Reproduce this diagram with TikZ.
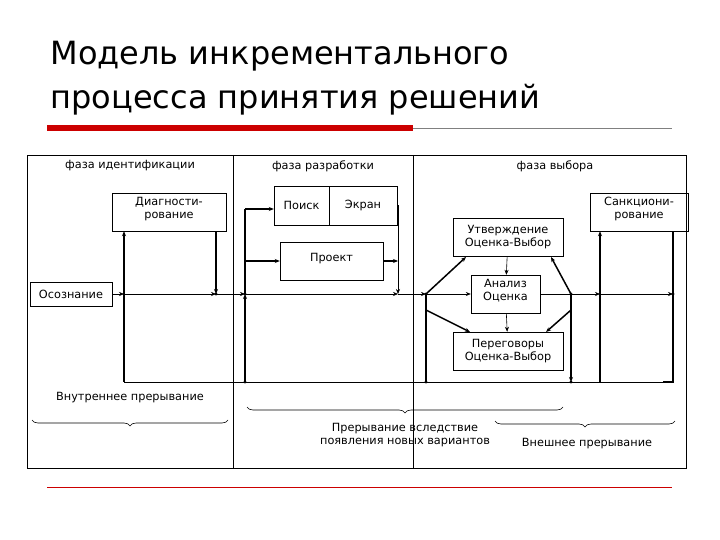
\documentclass[tikz,border=0pt]{standalone}
\usepackage{fontspec}
\setmainfont{DejaVu Sans}
\definecolor{titlered}{RGB}{204,0,0}
\usetikzlibrary{
  decorations.pathreplacing,    % curly braces under the picture
  arrows.meta
}
\tikzset{
  every node/.style = {font=\fontsize{11.3}{13}\selectfont, align=center},
  box/.style = {draw, rectangle, inner sep=0pt},
  phase/.style = {draw=none},
  flow/.style = {draw, line width=0.6pt, -{Stealth[length=5pt,width=4pt]}},
  thick flow/.style = {flow, line width=1.5pt},
  plain/.style = {draw, line width=0.6pt},
  bold/.style = {draw, line width=1.5pt},
  brace/.style = {decorate, decoration={brace, amplitude=6pt}, line width=0.6pt}
}

\begin{document}
\begin{tikzpicture}[x=1pt, y=-1pt]
\useasboundingbox (0,0) rectangle (720,540);

% title and rules
\node[anchor=west, font=\fontsize{32}{44}\selectfont, align=left] (title) at (47,78)
  {Модель инкрементального\\процесса принятия решений};
\fill[titlered] (47,125) rectangle (413,131);
\draw[gray, line width=0.6pt] (413,128) -- (672,128);
\draw[titlered, line width=0.8pt] (47,487) -- (672,487);

% frame and phases
\draw[line width=0.6pt] (27,155) rectangle (686,468);
\draw[line width=0.6pt] (233,155) -- (233,468) (413,155) -- (413,468);
\node[phase] (ph1) at (130,166) {фаза идентификации};
\node[phase] (ph2) at (323,166) {фаза разработки};
\node[phase] (ph3) at (555,166) {фаза выбора};

% boxes
\node[box, minimum width=114pt, minimum height=38pt] (diag) at (169,212) {Диагности-\\рование\\[-4pt]};
\node[box, minimum width=82pt, minimum height=24pt] (osoz) at (71,294) {Осознание};
\node[box, minimum width=55pt, minimum height=39pt] (poisk) at (301.5,205.5) {Поиск};
\node[box, minimum width=68pt, minimum height=39pt] (ekran) at (363,205.5) {Экран};
\node[box, minimum width=103pt, minimum height=38pt] (proekt) at (331.5,261) {Проект\\[-6pt]};
\node[box, minimum width=110pt, minimum height=38pt] (utv) at (508,237) {Утверждение\\Оценка-Выбор};
\node[box, minimum width=69pt, minimum height=38pt] (anal) at (505.5,294) {Анализ\\Оценка\\[-4pt]};
\node[box, minimum width=110pt, minimum height=38pt] (pereg) at (508,351) {Переговоры\\Оценка-Выбор};
\node[box, minimum width=98pt, minimum height=38pt] (sank) at (639,212) {Санкциони-\\рование\\[-4pt]};

% junctions
\foreach \n/\x in {a/124, b/216, c/245, d/398, e/426, f/571, g/600, h/673}{
  \coordinate (m\n) at (\x,294);
  \coordinate (l\n) at (\x,382);
}
\coordinate (e2) at (426,310);
\coordinate (f2) at (571,310);

% main line
\draw[flow] (osoz) -- (ma);
\draw[flow] (ma) -- (mb);
\draw[flow] (mb) -- (mc);
\draw[flow] (mc) -- (md);
\draw[flow] (md) -- (me);
\draw[flow] (me) -- (anal);
\draw[plain] (anal) -- (mf);
\draw[flow] (mf) -- (mg);
\draw[flow] (mg) -- (mh);
\draw[plain] (la) -- (lh);

% identification phase
\draw[thick flow] (ma) -- (ma |- diag.south);
\draw[bold] (ma) -- (la);
\draw[thick flow] (mb |- diag.south) -- (mb);

% development phase
\draw[thick flow] (lc) -- (mc);
\draw[bold] (mc) |- (245,209) coordinate (c1);
\draw[thick flow] (c1) -- (c1 -| poisk.west);
\draw[thick flow] (245,261) -- (proekt.west);
\draw[plain] (ekran.east) -| (398,270);
\draw[flow] (398,270) -- (md);
\draw[thick flow] (proekt.east) -- (398,261);

% selection phase
\draw[bold] (le) -- (me);
\draw[thick flow] (me) -- (466,257);
\draw[thick flow] (e2) -- (470,332);
\draw[flow] (utv) -- (anal);
\draw[flow] (anal) -- (pereg);
\draw[thick flow] (mf) -- (551,257);
\draw[thick flow] (f2) -- (546,332);
\draw[thick flow] (mf) -- (lf);
\draw[thick flow] (lg) -- (mg |- sank.south);
\draw[bold] (mh |- sank.south) -- (mh);
\draw[bold] (mh) -- (lh) -- (663,382);
\foreach \p in {mb, mc, me, mf, mh, le, lc, lf}
  \fill (\p) circle (1.6pt);

% interruptions
\node (inner) at (130,398) {Внутреннее прерывание};
\draw[brace] (228,420) -- (32,420);
\draw[brace] (563,407) -- (247,407);
\node (newalt) at (405,435) {Прерывание вследствие\\появления новых вариантов};
\draw[brace] (675,421) -- (495,421);
\node (outer) at (587,444) {Внешнее прерывание};
\end{tikzpicture}
\end{document}
